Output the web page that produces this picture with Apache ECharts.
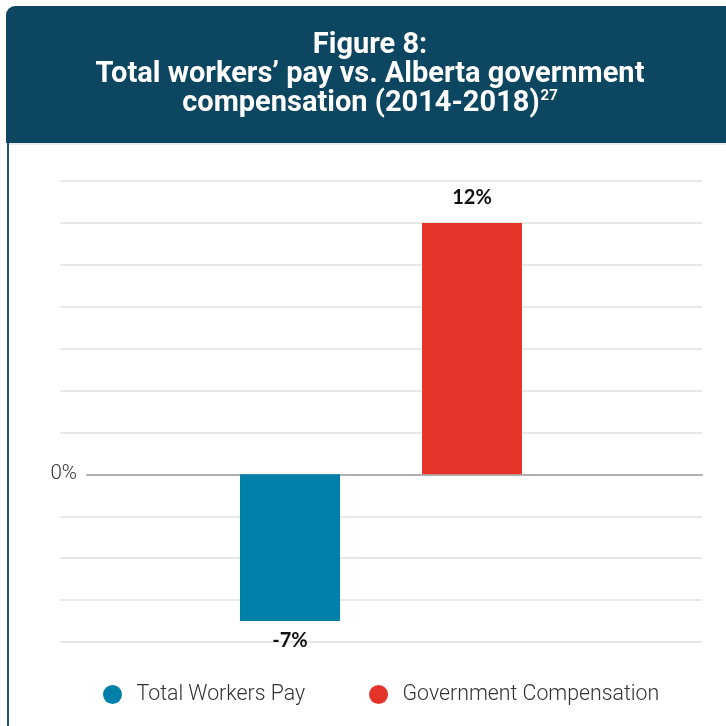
<!DOCTYPE html>
<html>
<head>
<meta charset="utf-8">
<script src="https://cdn.jsdelivr.net/npm/echarts@6/dist/echarts.min.js"></script>
<style>
html,body{margin:0;padding:0;background:#fff;}
#c{width:726px;height:726px;}
</style>
</head>
<body>
<div id="c"></div>
<script>
const categories = ['2014-2018'];
const seriesNames = ['Total Workers Pay', 'Government Compensation'];
const workersPay = [-7];
const govComp = [12];
const yTickLabels = {0: '0%'};

const chart = echarts.init(document.getElementById('c'), null, {renderer: 'canvas'});
const Y_MIN = -8, Y_MAX = 14, Y_INT = 2;
const splitColors = [];
for (let v = Y_MIN; v <= Y_MAX; v += Y_INT) splitColors.push(v === 0 ? 'rgba(0,0,0,0)' : '#e0e0e0');

function labelled(vals) {
  return vals.map(v => v < 0 ? {value: v, label: {position: 'bottom', distance: 10}} : v);
}
const labelStyle = {
  show: true, position: 'top', distance: 15,
  formatter: p => p.value + '%',
  fontFamily: 'Lato', fontWeight: 'bold', fontSize: 20, color: '#111'
};

chart.setOption({
  backgroundColor: '#fff',
  animation: false,
  graphic: [
    {type: 'rect', shape: {x: 6, y: 6, width: 730, height: 137, r: [9, 0, 0, 0]}, style: {fill: '#0d4660'}, z: 0},
    {type: 'line', shape: {x1: 8, y1: 143, x2: 8, y2: 726}, style: {stroke: '#1d5672', lineWidth: 2}},
    {type: 'line', shape: {x1: 9, y1: 144, x2: 726, y2: 144}, style: {stroke: '#cdd7de', lineWidth: 1}}
  ],
  title: {
    text: 'Figure 8:\nTotal workers’ pay vs. Alberta government\ncompensation (2014-2018){sup|27}',
    left: 370, top: 31, textAlign: 'center', padding: 0,
    textStyle: {
      fontFamily: 'Roboto', fontWeight: 'bold', fontSize: 29, color: '#fff', lineHeight: 29,
      rich: {sup: {fontFamily: 'Roboto', fontWeight: 'bold', fontSize: 15, color: '#fff', verticalAlign: 'top', lineHeight: 29, padding: [0, 0, 10, 1]}}
    }
  },
  legend: {
    left: 98, top: 679, itemWidth: 38, itemHeight: 19, itemGap: 64, icon: 'circle',
    textStyle: {fontFamily: 'Roboto', fontWeight: 300, fontSize: 21.3, color: '#333'},
    data: seriesNames
  },
  grid: [
    {left: 60, right: 24, top: 181, bottom: 84},
    {left: 87, right: 24, top: 181, bottom: 84}
  ],
  xAxis: [
    {type: 'category', gridIndex: 0, data: categories, axisLine: {show: false}, axisTick: {show: false}, axisLabel: {show: false}},
    {type: 'category', gridIndex: 1, data: categories, axisLine: {show: true, onZero: true, lineStyle: {color: '#b0b0b0', width: 2}}, axisTick: {show: false}, axisLabel: {show: false}}
  ],
  yAxis: [
    {type: 'value', gridIndex: 0, min: Y_MIN, max: Y_MAX, interval: Y_INT, axisLine: {show: false}, axisTick: {show: false}, axisLabel: {show: false},
     splitLine: {show: true, lineStyle: {color: splitColors, width: 1.5}}},
    {type: 'value', gridIndex: 1, min: Y_MIN, max: Y_MAX, interval: Y_INT, axisLine: {show: false}, axisTick: {show: false}, splitLine: {show: false},
     axisLabel: {show: true, margin: 10, formatter: v => yTickLabels[v] || '', fontFamily: 'Roboto', fontWeight: 300, fontSize: 20.5, color: '#333'}}
  ],
  series: [
    {name: seriesNames[0], type: 'bar', xAxisIndex: 0, yAxisIndex: 0, data: labelled(workersPay), barWidth: 100, barGap: '82%',
     itemStyle: {color: '#0080a9'}, label: labelStyle, z: 3},
    {name: seriesNames[1], type: 'bar', xAxisIndex: 0, yAxisIndex: 0, data: labelled(govComp), barWidth: 100, barGap: '82%',
     itemStyle: {color: '#e5342a'}, label: labelStyle, z: 3}
  ]
});
</script>
</body>
</html>
